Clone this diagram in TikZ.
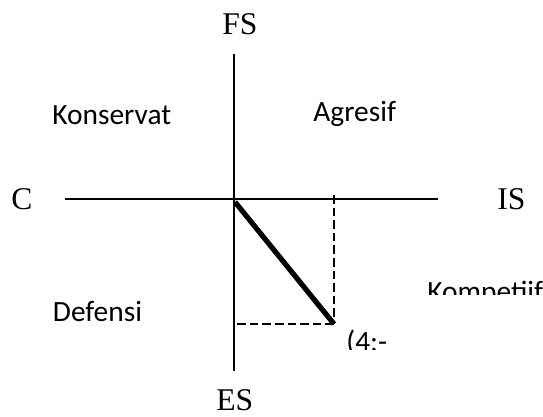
\documentclass[tikz,border=0pt]{standalone}
\usepackage{fontspec}
\setmainfont{Liberation Serif}
\newfontfamily\calfont{Carlito}
\usetikzlibrary{calc}

\tikzset{
  axislbl/.style={inner sep=0pt,anchor=base west,font=\fontsize{15.8}{18}\selectfont},
  quadlbl/.style={inner sep=0pt,anchor=base west,font=\calfont\fontsize{14.7}{17}\selectfont},
  axisline/.style={line width=1pt},
  guide/.style={line width=1pt,dash pattern=on 4.3pt off 2pt},
}

\begin{document}
\begin{tikzpicture}[x=0.5pt,y=-0.5pt]
\useasboundingbox (0,0) rectangle (543,417);
\coordinate (top) at (234,54);
\coordinate (bot) at (234,371);
\coordinate (left) at (65,199);
\coordinate (right) at (438,199);
\coordinate (o) at (235,202);
\coordinate (p) at (334,324);
\coordinate (ptop) at (334,195);
\draw[axisline] (top) -- (bot);
\draw[axisline] (left) -- (right);
\draw[guide] (ptop) -- (p);
\draw[guide] (p) -- (p -| bot);
\draw[line width=2.6pt] (o) -- (p);
% axis names
\node[axislbl] (fs) at (222,35) {FS};
\node[axislbl] (es) at (216,410.5) {ES};
\node[axislbl] (c) at (11,210) {C};
\node[axislbl] (is) at (497,210) {IS};
% quadrants
\node[quadlbl] (kons) at (52,124.5) {Konservat};
\node[quadlbl] (agr) at (313,122) {Agresif};
\node[quadlbl] (def) at (52.6,322) {Defensi};
\begin{scope}
\clip (400,270) rectangle (543,294.5);
\node[quadlbl] (komp) at (427,302) {Kompetiif};
\end{scope}
\begin{scope}
\clip (340,320) rectangle (400,350);
\node[quadlbl] (pt) at (346,352) {(4;-};
\end{scope}
\end{tikzpicture}
\end{document}
